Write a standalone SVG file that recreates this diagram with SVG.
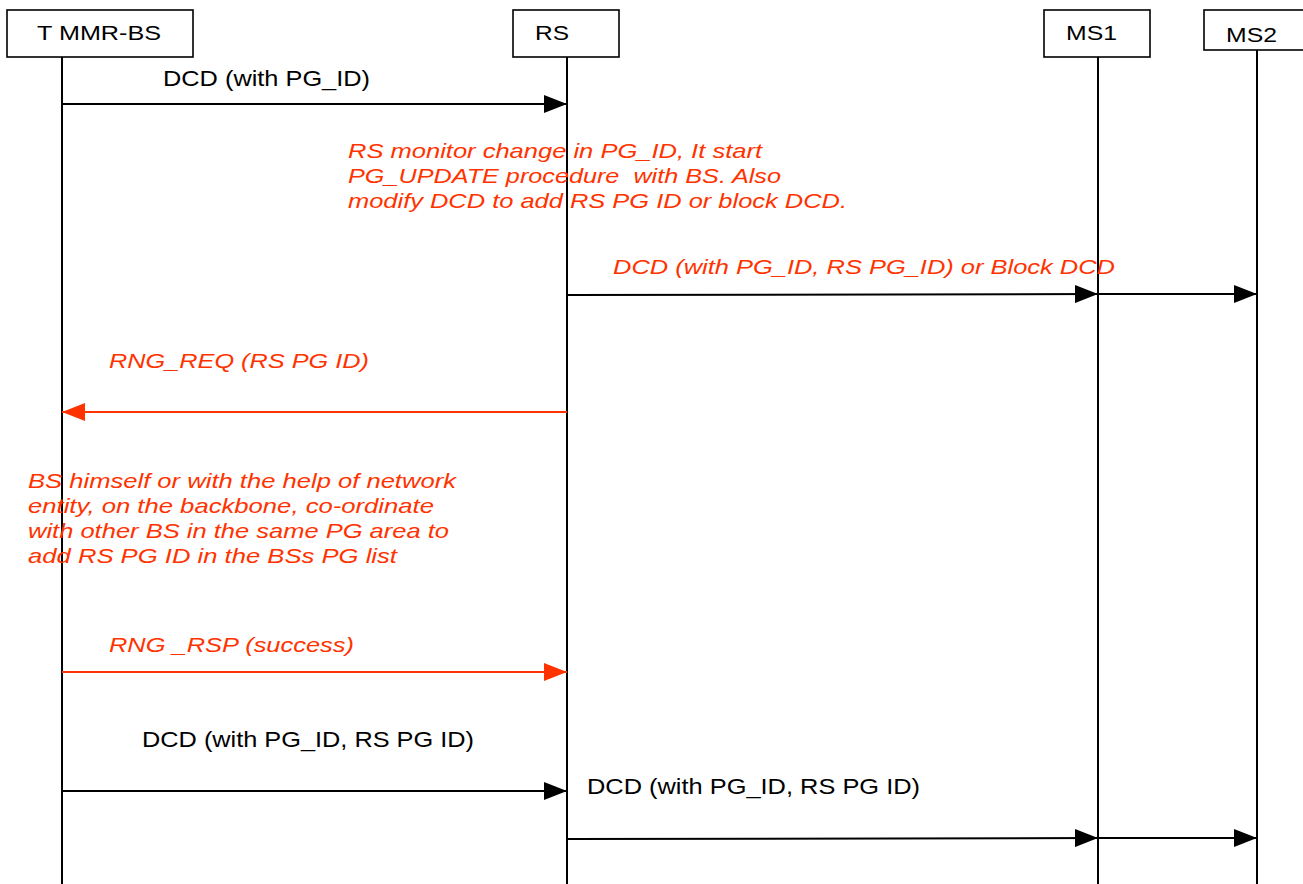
<svg xmlns="http://www.w3.org/2000/svg" width="1303" height="884" viewBox="0 0 1303 884">
<style>
.box{fill:#fff;stroke:#000;stroke-width:1.6}
.life{stroke:#000;stroke-width:2;fill:none}
.hd{font-family:"Liberation Sans",Arial,sans-serif;font-size:21px;fill:#000}
.lbl{font-family:"Liberation Sans",Arial,sans-serif;font-size:21.5px;fill:#000}
.red{font-family:"Liberation Sans",Arial,sans-serif;font-size:21px;font-style:italic;fill:#ff3300}
.blk{stroke:#000;stroke-width:2;fill:none;marker-end:url(#ah)}
.rln{stroke:#ff3300;stroke-width:2;fill:none;marker-end:url(#ahr)}
</style>
<defs>
<marker id="ah" markerWidth="23" markerHeight="18" refX="23" refY="9" orient="auto" markerUnits="userSpaceOnUse"><path d="M0,0 L23,9 L0,18 z" fill="#000"/></marker>
<marker id="ahr" markerWidth="23" markerHeight="18" refX="23" refY="9" orient="auto" markerUnits="userSpaceOnUse"><path d="M0,0 L23,9 L0,18 z" fill="#ff3300"/></marker>
</defs>
<rect width="1303" height="884" fill="#fff"/>

<g id="node-tmmrbs">
<line class="life" x1="62" y1="57" x2="62" y2="884"/>
<rect class="box" x="7" y="10" width="186" height="47"/>
<text class="hd" x="37" y="40" textLength="124" lengthAdjust="spacingAndGlyphs">T MMR-BS</text>
</g>
<g id="node-rs">
<line class="life" x1="567" y1="57" x2="567" y2="884"/>
<rect class="box" x="513" y="10" width="106" height="47"/>
<text class="hd" x="535" y="40" textLength="34" lengthAdjust="spacingAndGlyphs">RS</text>
</g>
<g id="node-ms1">
<line class="life" x1="1098" y1="57" x2="1098" y2="884"/>
<rect class="box" x="1044" y="10" width="106" height="47"/>
<text class="hd" x="1066" y="40" textLength="51" lengthAdjust="spacingAndGlyphs">MS1</text>
</g>
<g id="node-ms2">
<line class="life" x1="1257" y1="50" x2="1257" y2="884"/>
<rect class="box" x="1204" y="10" width="110" height="40"/>
<text class="hd" x="1226" y="42" textLength="51" lengthAdjust="spacingAndGlyphs">MS2</text>
</g>

<g id="notes">
<text class="red" xml:space="preserve" x="348" y="158" textLength="414" lengthAdjust="spacingAndGlyphs">RS monitor change in PG_ID, It start</text>
<text class="red" xml:space="preserve" x="348" y="183" textLength="433" lengthAdjust="spacingAndGlyphs">PG_UPDATE procedure  with BS. Also</text>
<text class="red" xml:space="preserve" x="348" y="208" textLength="499" lengthAdjust="spacingAndGlyphs">modify DCD to add RS PG ID or block DCD.</text>
<text class="red" x="28" y="488" textLength="428" lengthAdjust="spacingAndGlyphs">BS himself or with the help of network</text>
<text class="red" x="28" y="513" textLength="406" lengthAdjust="spacingAndGlyphs">entity, on the backbone, co-ordinate</text>
<text class="red" x="28" y="538" textLength="421" lengthAdjust="spacingAndGlyphs">with other BS in the same PG area to</text>
<text class="red" x="28" y="563" textLength="369" lengthAdjust="spacingAndGlyphs">add RS PG ID in the BSs PG list</text>
</g>

<g id="connectors">
<line class="blk" x1="62" y1="104" x2="567" y2="104"/>
<text class="lbl" x="163" y="86" textLength="207" lengthAdjust="spacingAndGlyphs">DCD (with PG_ID)</text>

<line class="blk" x1="567" y1="295" x2="1098" y2="294"/>
<line class="blk" x1="1098" y1="294" x2="1257" y2="294"/>
<text class="red" x="613" y="274" textLength="502" lengthAdjust="spacingAndGlyphs">DCD (with PG_ID, RS PG_ID) or Block DCD</text>

<line class="rln" x1="567" y1="412" x2="62" y2="412"/>
<text class="red" x="109" y="368" textLength="260" lengthAdjust="spacingAndGlyphs">RNG_REQ (RS PG ID)</text>

<line class="rln" x1="62" y1="672" x2="567" y2="672"/>
<text class="red" x="109" y="652" textLength="245" lengthAdjust="spacingAndGlyphs">RNG _RSP (success)</text>

<line class="blk" x1="62" y1="791" x2="567" y2="791"/>
<text class="lbl" x="142" y="747" textLength="332" lengthAdjust="spacingAndGlyphs">DCD (with PG_ID, RS PG ID)</text>

<line class="blk" x1="567" y1="839" x2="1098" y2="838"/>
<line class="blk" x1="1098" y1="838" x2="1257" y2="838"/>
<text class="lbl" x="587" y="794" textLength="333" lengthAdjust="spacingAndGlyphs">DCD (with PG_ID, RS PG ID)</text>
</g>
</svg>
